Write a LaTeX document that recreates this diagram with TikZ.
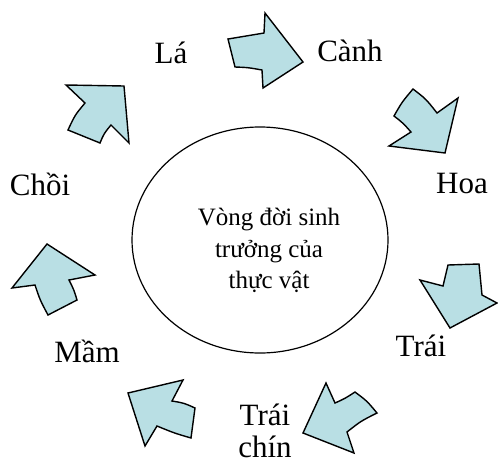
\documentclass[tikz,border=0pt]{standalone}
\usepackage{fontspec}
\setmainfont{Liberation Serif}
\usetikzlibrary{shapes.geometric}
\definecolor{arrowfill}{RGB}{185,223,228}
\tikzset{
  blockarrow/.style={draw=black, fill=arrowfill, line width=1.4pt, line join=miter},
  stage/.style={font=\fontsize{31}{36}\selectfont, anchor=base, inner sep=0pt},
  core/.style={font=\fontsize{25}{30}\selectfont, anchor=base, inner sep=0pt}
}
\begin{document}
\begin{tikzpicture}[x=1pt, y=-1pt]
\useasboundingbox (0,0) rectangle (498,464);

% central ellipse and its caption
\node[draw, line width=1.2pt, ellipse, minimum width=256pt, minimum height=226pt, inner sep=0pt] (cycle) at (260,240) {};
\node[core] (c1) at (269,225) {Vòng đời sinh};
\node[core] (c2) at (269,257) {trưởng của};
\node[core] (c3) at (269,288) {thực vật};

% stage labels
\node[stage] (la)    at (171,63)  {Lá};
\node[stage] (canh)  at (350,61)  {Cành};
\node[stage] (hoa)   at (462,193) {Hoa};
\node[stage] (trai)  at (421,356) {Trái};
\node[stage] (chin1) at (265,425) {Trái};
\node[stage] (chin2) at (265,457) {chín};
\node[stage] (mam)   at (87,362)  {Mầm};
\node[stage] (choi)  at (40,195)  {Chồi};

% block arrows between the stages
% Lá -> Cành
\draw[blockarrow] (228,39) .. controls (246,35.5) .. (264,33) -- (265,13) -- (303,62)
  -- (263,88) -- (262,70) .. controls (248,67.5) .. (235,67) -- cycle;
% Cành -> Hoa
\draw[blockarrow] (413,89) .. controls (426,99) .. (437,113) -- (458,98) -- (445,153)
  -- (389,146) -- (411,132) .. controls (403,123) .. (394,116)
  .. controls (402,102) .. (413,89) -- cycle;
% Hoa -> Trái
\draw[blockarrow] (448,265) -- (479,264) .. controls (481,279) .. (482,295) -- (497,303)
  -- (450,328) -- (420,280) -- (443,286) .. controls (446,276) .. (448,265) -- cycle;
% Trái -> Trái chín
\draw[blockarrow] (355,392) .. controls (367,401) .. (377,413) .. controls (361,421) .. (347,432)
  -- (354,453) -- (303,433) -- (326,383) -- (335,403) .. controls (345,398.5) .. (355,392) -- cycle;
% Trái chín -> Mầm
\draw[blockarrow] (128,393) -- (183,380) -- (172,401) .. controls (184,403) .. (195,408)
  -- (191,438) .. controls (174,433) .. (157,426) -- (145,446) -- cycle;
% Mầm -> Chồi
\draw[blockarrow] (47,244) -- (95,275) -- (69,280) .. controls (74,290) .. (77,300)
  -- (48,315) .. controls (40,300) .. (35,285) -- (12,288) -- cycle;
% Chồi -> Lá
\draw[blockarrow] (66,85) -- (124,86) -- (129,143) -- (111,125) .. controls (104,133.5) .. (100,143)
  -- (68,130) .. controls (75,115) .. (85,103) -- cycle;
\end{tikzpicture}
\end{document}
